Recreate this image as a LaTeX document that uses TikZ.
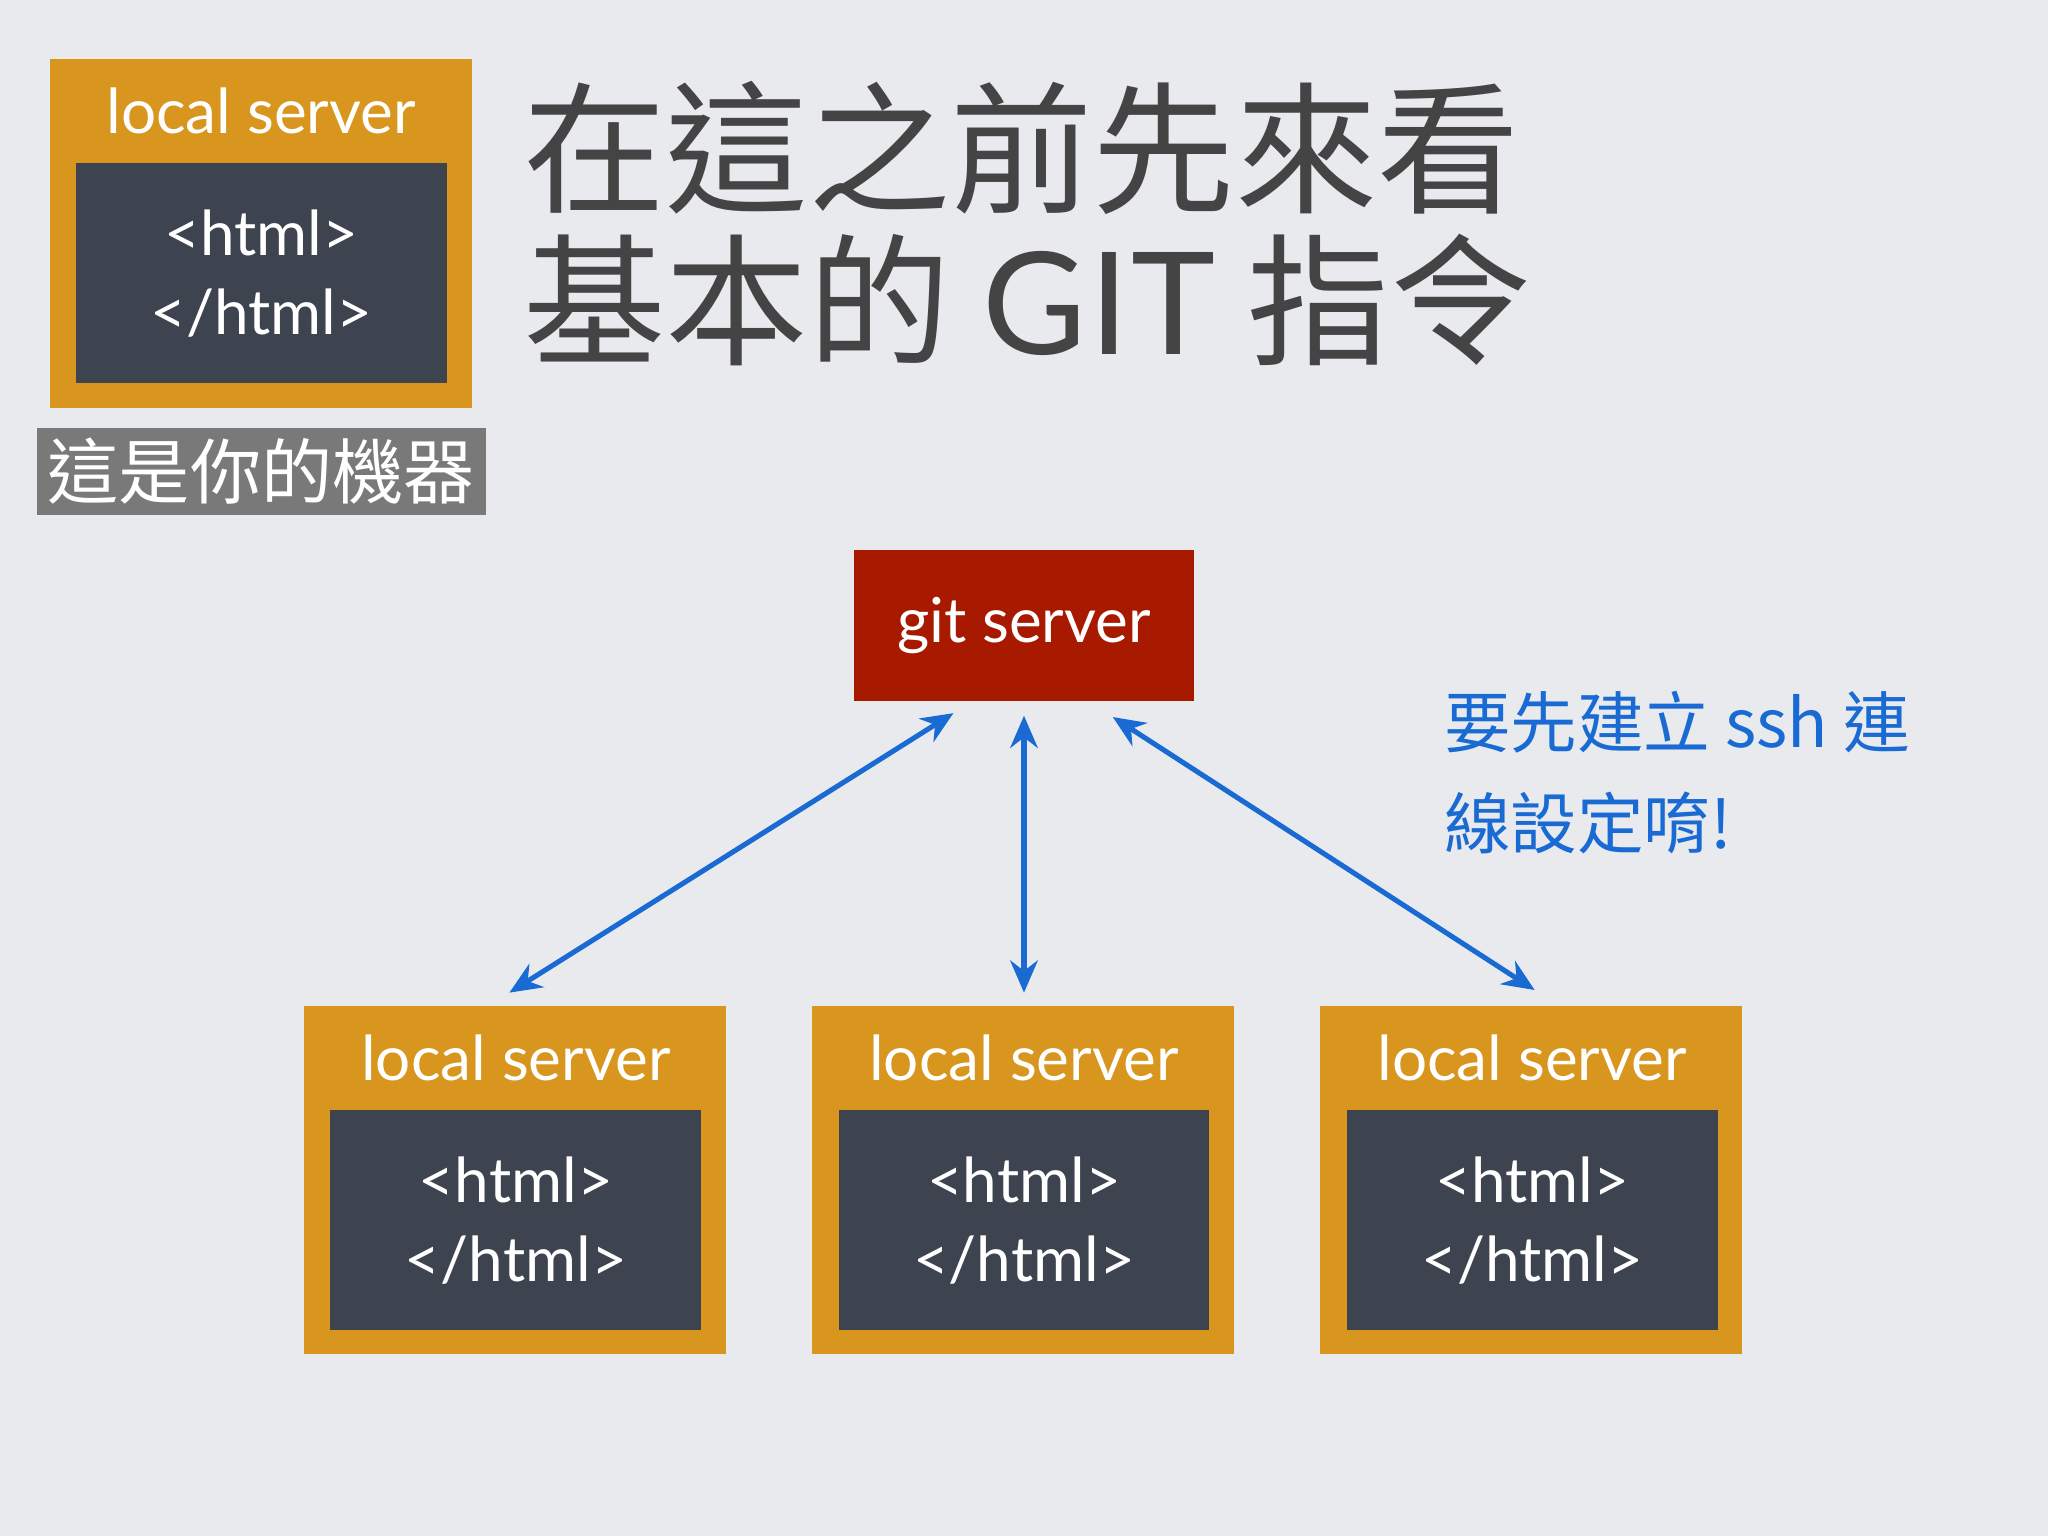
\documentclass[tikz,border=0pt]{standalone}
\usepackage{fontspec}
\setmainfont{Lato}
\newfontfamily\cjk{Noto Sans CJK TC}
\usetikzlibrary{arrows.meta}
\definecolor{bg}{HTML}{E8EAEE}
\definecolor{org}{HTML}{D8961E}
\definecolor{dark}{HTML}{3E4350}
\definecolor{gred}{HTML}{A81A00}
\definecolor{arr}{HTML}{1A6AD4}
\definecolor{ttl}{HTML}{444444}
\tikzset{x=0.01cm,y=-0.01cm,
 outer/.style={fill=org,draw=none},
 inner/.style={fill=dark,draw=none},
 lbl/.style={text=white,font=\fontsize{13.5}{15}\selectfont,inner sep=0},
 con/.style={draw=arr,line width=1.1pt,{Stealth[length=7pt,width=6pt]}-{Stealth[length=7pt,width=6pt]}}}
\newcommand{\lserver}[3]{%
 \fill[outer] (#1,#2) rectangle ++(323,267);
 \fill[inner] (#1+20,#2+80) rectangle ++(284,168);
 \node[lbl] (#3t) at (#1+162,#2+40) {local server};
 \node[lbl] (#3a) at (#1+162,#2+133) {<html>};
 \node[lbl] (#3b) at (#1+162,#2+195) {</html>};}
\begin{document}
\begin{tikzpicture}
\fill[bg] (0,0) rectangle (1568,1176);
\useasboundingbox (0,0) rectangle (1568,1176);
\lserver{38}{45}{m}
\fill[gray!95!black] (28,328) rectangle (372,394);
\node[text=white,font=\cjk\fontsize{15.5}{18}\selectfont,inner sep=0] (mine) at (200,361) {這是你的機器};
\node[text=ttl,font=\cjk\fontsize{31}{34}\selectfont,inner sep=0,anchor=west] (t1) at (400,113) {在這之前先來看};
\node[text=ttl,font=\cjk\fontsize{31}{34}\selectfont,inner sep=0,anchor=west] (t2) at (400,230) {基本的 {\fontspec{Lato}\addfontfeature{LetterSpace=2}GIT} 指令};
\node[fill=gred,minimum width=260*0.2845pt,minimum height=116*0.2845pt,text=white,font=\fontsize{13.5}{15}\selectfont] (git) at (784,479) {git server};
\node[text=arr,font=\cjk\fontsize{14.5}{17}\selectfont,inner sep=0,anchor=west] (h1) at (1105,553) {要先建立 ssh 連};
\node[text=arr,font=\cjk\fontsize{14.5}{17}\selectfont,inner sep=0,anchor=west] (h2) at (1105,630) {線設定唷!};
\lserver{233}{770}{a}
\lserver{622}{770}{b}
\lserver{1011}{770}{c}
\coordinate (g1) at (730,546); \coordinate (l1) at (390,760);
\coordinate (g2) at (784,548); \coordinate (l2) at (784,760);
\coordinate (g3) at (852,549); \coordinate (l3) at (1175,758);
\draw[con] (l1) -- (g1);
\draw[con] (l2) -- (g2);
\draw[con] (l3) -- (g3);
\end{tikzpicture}
\end{document}
